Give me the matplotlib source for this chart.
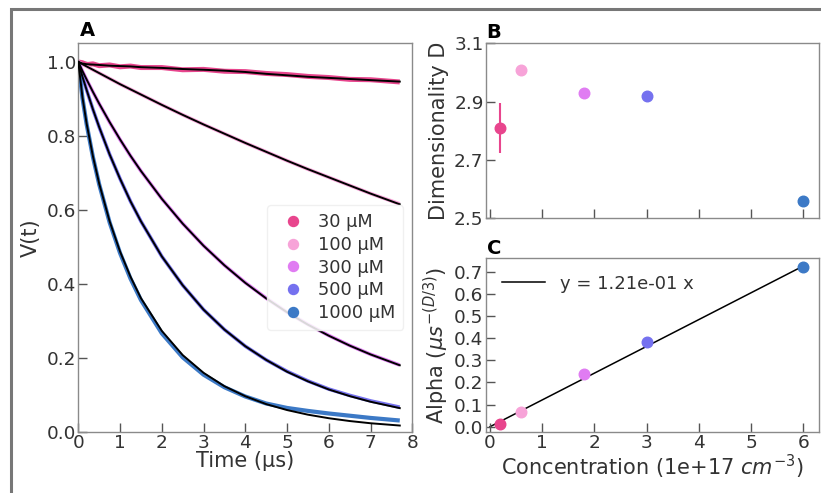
"""
Stretched-exponential decays, dimensionality and alpha vs concentration
"""
import numpy as np
import matplotlib.pyplot as plt
from matplotlib.lines import Line2D
from matplotlib.patches import Rectangle

plt.rcParams['font.family'] = ['DejaVu Sans']
plt.rcParams['mathtext.fontset'] = 'dejavusans'

# ---------------- data ----------------
labels = ['30 µM', '100 µM', '300 µM', '500 µM', '1000 µM']
colors = ['#e8458d', '#f7a3d8', '#e07cf2', '#7571ef', '#3c79c6']

t_us = [0, 0.1, 0.2, 0.35, 0.5, 0.75, 1, 1.25, 1.5, 2, 2.5, 3, 3.5, 4,
        4.5, 5, 5.5, 6, 6.5, 7, 7.7]

# measured V(t)
v30   = [1.0, 0.998, 0.993, 0.995, 0.990, 0.992, 0.987, 0.989, 0.985, 0.985,
         0.979, 0.980, 0.975, 0.974, 0.969, 0.966, 0.961, 0.958, 0.953, 0.952, 0.946]
v100  = [1.0, 0.994, 0.988, 0.979, 0.970, 0.955, 0.940, 0.926, 0.912, 0.884,
         0.857, 0.831, 0.806, 0.781, 0.757, 0.733, 0.710, 0.688, 0.666, 0.644, 0.616]
v300  = [1.0, 0.975, 0.952, 0.919, 0.887, 0.837, 0.790, 0.746, 0.705, 0.630,
         0.563, 0.503, 0.450, 0.403, 0.361, 0.323, 0.290, 0.260, 0.233, 0.209, 0.180]
v500  = [1.0, 0.960, 0.924, 0.872, 0.824, 0.750, 0.684, 0.623, 0.569, 0.474,
         0.396, 0.330, 0.276, 0.231, 0.194, 0.163, 0.137, 0.115, 0.098, 0.083, 0.066]
v1000 = [1.0, 0.902, 0.831, 0.743, 0.669, 0.566, 0.483, 0.414, 0.356, 0.266,
         0.201, 0.154, 0.120, 0.095, 0.076, 0.064, 0.056, 0.049, 0.043, 0.037, 0.030]

# fitted V(t)
f30   = [1.0, 0.996, 0.994, 0.993, 0.992, 0.990, 0.989, 0.988, 0.986, 0.984,
         0.981, 0.979, 0.9765, 0.973, 0.968, 0.964, 0.960, 0.957, 0.954, 0.951, 0.947]
f100  = [1.0, 0.994, 0.988, 0.979, 0.970, 0.955, 0.940, 0.926, 0.912, 0.884,
         0.857, 0.831, 0.806, 0.781, 0.757, 0.733, 0.710, 0.688, 0.666, 0.644, 0.615]
f300  = [1.0, 0.9755, 0.9525, 0.9192, 0.8875, 0.8374, 0.7906, 0.7463, 0.7052, 0.6298,
         0.5627, 0.5028, 0.4499, 0.4024, 0.3604, 0.3228, 0.2893, 0.2594, 0.2327, 0.2088, 0.1795]
f500  = [1.0, 0.960, 0.924, 0.872, 0.824, 0.750, 0.684, 0.623, 0.569, 0.474,
         0.396, 0.330, 0.276, 0.231, 0.194, 0.162, 0.136, 0.114, 0.0961, 0.0808, 0.0635]
f1000 = [1.0, 0.904, 0.833, 0.745, 0.671, 0.569, 0.487, 0.419, 0.361, 0.2725,
         0.207, 0.159, 0.1228, 0.0957, 0.0744, 0.0583, 0.0458, 0.0362, 0.0286, 0.0226, 0.0164]

concentration = [0.2, 0.6, 1.8, 3.0, 6.0]      # 1e17 cm^-3
dim_D   = [2.81, 3.01, 2.93, 2.92, 2.56]
dim_err = [0.085, 0.0, 0.0, 0.0, 0.0]
alpha   = [0.012, 0.068, 0.238, 0.381, 0.720]
slope   = 0.121

data_list = [v30, v100, v300, v500, v1000]
fit_list  = [f30, f100, f300, f500, f1000]
data_lw   = [3.6, 2.6, 2.6, 2.6, 3.0]

# ---------------- style ----------------
txt_c  = '#333333'
spn_c  = '#8a8a8a'
tick_fs = 13.3
lab_fs  = 15.0

def style_ax(ax):
  for s in ax.spines.values():
    s.set_color(spn_c)
    s.set_linewidth(1.0)
  ax.tick_params(direction='in', length=6.5, width=1.0, color='#555555',
                 labelsize=tick_fs, labelcolor=txt_c, pad=2)
  ax.tick_params(axis='y', pad=1.5)

W, H = 821, 493
fig = plt.figure(figsize=(W/100, H/100), dpi=100)

def px_axes(x0, y0, x1, y1):
  return fig.add_axes([x0/W, 1 - y1/H, (x1 - x0)/W, (y1 - y0)/H])

axA = px_axes(78.3, 43.0, 412.3, 431.6)
axB = px_axes(485.7, 43.3, 819.0, 218.3)
axC = px_axes(485.7, 258.3, 819.0, 431.7)

######################
# A: decays
######################
legend_list = []
for i in range(len(labels)):
  axA.plot(t_us, data_list[i], color=colors[i], lw=data_lw[i],
           solid_capstyle='butt', zorder=2)
for i in range(len(labels)):
  axA.plot(t_us, fit_list[i], color='black', lw=1.4, zorder=3)
  legend_list.append(Line2D([0], [0], linestyle='none', marker='o',
                            markersize=7.2, color=colors[i], label=labels[i]))
axA.set_xlim(0, 8)
axA.set_ylim(0, 1.0514)
axA.set_xticks(range(0, 9))
axA.set_yticks([0, 0.2, 0.4, 0.6, 0.8, 1.0])
axA.set_yticklabels(['0.0', '0.2', '0.4', '0.6', '0.8', '1.0'])
style_ax(axA)
axA.set_xlabel('Time (µs)', fontsize=lab_fs, color=txt_c, labelpad=-1)
axA.set_ylabel('V(t)', fontsize=lab_fs, color=txt_c, labelpad=4)
leg = axA.legend(handles=legend_list, loc='upper right',
                 bbox_to_anchor=(1.0, 0.605), fontsize=12.8,
                 handletextpad=0.4, handlelength=2.0, labelspacing=0.26,
                 borderpad=0.45, frameon=True, fancybox=True)
leg.get_frame().set_edgecolor('#eeeeee')
leg.get_frame().set_alpha(0.85)
for t in leg.get_texts():
  t.set_color(txt_c)

######################
# B: dimensionality
######################
for i in range(len(labels)):
  axB.errorbar(concentration[i], dim_D[i], yerr=dim_err[i], fmt='o',
               color=colors[i], markersize=7.6, elinewidth=1.5, capsize=0)
axB.set_xlim(-0.083, 6.3)
axB.set_ylim(2.5, 3.1)
axB.set_xticks(range(0, 7))
axB.set_yticks([2.5, 2.7, 2.9, 3.1])
style_ax(axB)
axB.tick_params(labelbottom=False)
axB.set_ylabel('Dimensionality D', fontsize=lab_fs, color=txt_c, labelpad=4)

######################
# C: alpha vs concentration
######################
xfit = np.array([0.0, max(concentration)])
axC.plot(xfit, slope*xfit, color='black', lw=1.1, zorder=1,
         label=f'y = {slope:.2e} x')
for i in range(len(labels)):
  axC.plot(concentration[i], alpha[i], 'o', color=colors[i],
           markersize=7.6, zorder=3)
axC.set_xlim(-0.083, 6.3)
axC.set_ylim(-0.0226, 0.7606)
axC.set_xticks(range(0, 7))
axC.set_yticks(np.round(np.arange(0, 0.71, 0.1), 1))
style_ax(axC)
axC.set_xlabel(r'Concentration (1e+17 $cm^{-3}$)', fontsize=lab_fs,
               color=txt_c, labelpad=0)
axC.set_ylabel(r'Alpha ($\mu s^{-(D/3)}$)', fontsize=lab_fs, color=txt_c,
               labelpad=2)
legC = axC.legend(loc='upper left', frameon=False, fontsize=13.0,
                  handlelength=2.4)
for t in legC.get_texts():
  t.set_color(txt_c)

# panel letters
for lab, x, y in [('A', 80, 31), ('B', 486.5, 32), ('C', 486.5, 249)]:
  fig.text(x/W, 1 - y/H, lab, ha='left', va='center', fontsize=14,
           fontweight='bold', color='black')

# outer frame
fig.patches.append(Rectangle((11/W, -0.1), 1.2, 1.1 - 9/H, transform=fig.transFigure,
                             fill=False, edgecolor='#777777', lw=2.2))

fig.savefig('out.png', dpi=100)
